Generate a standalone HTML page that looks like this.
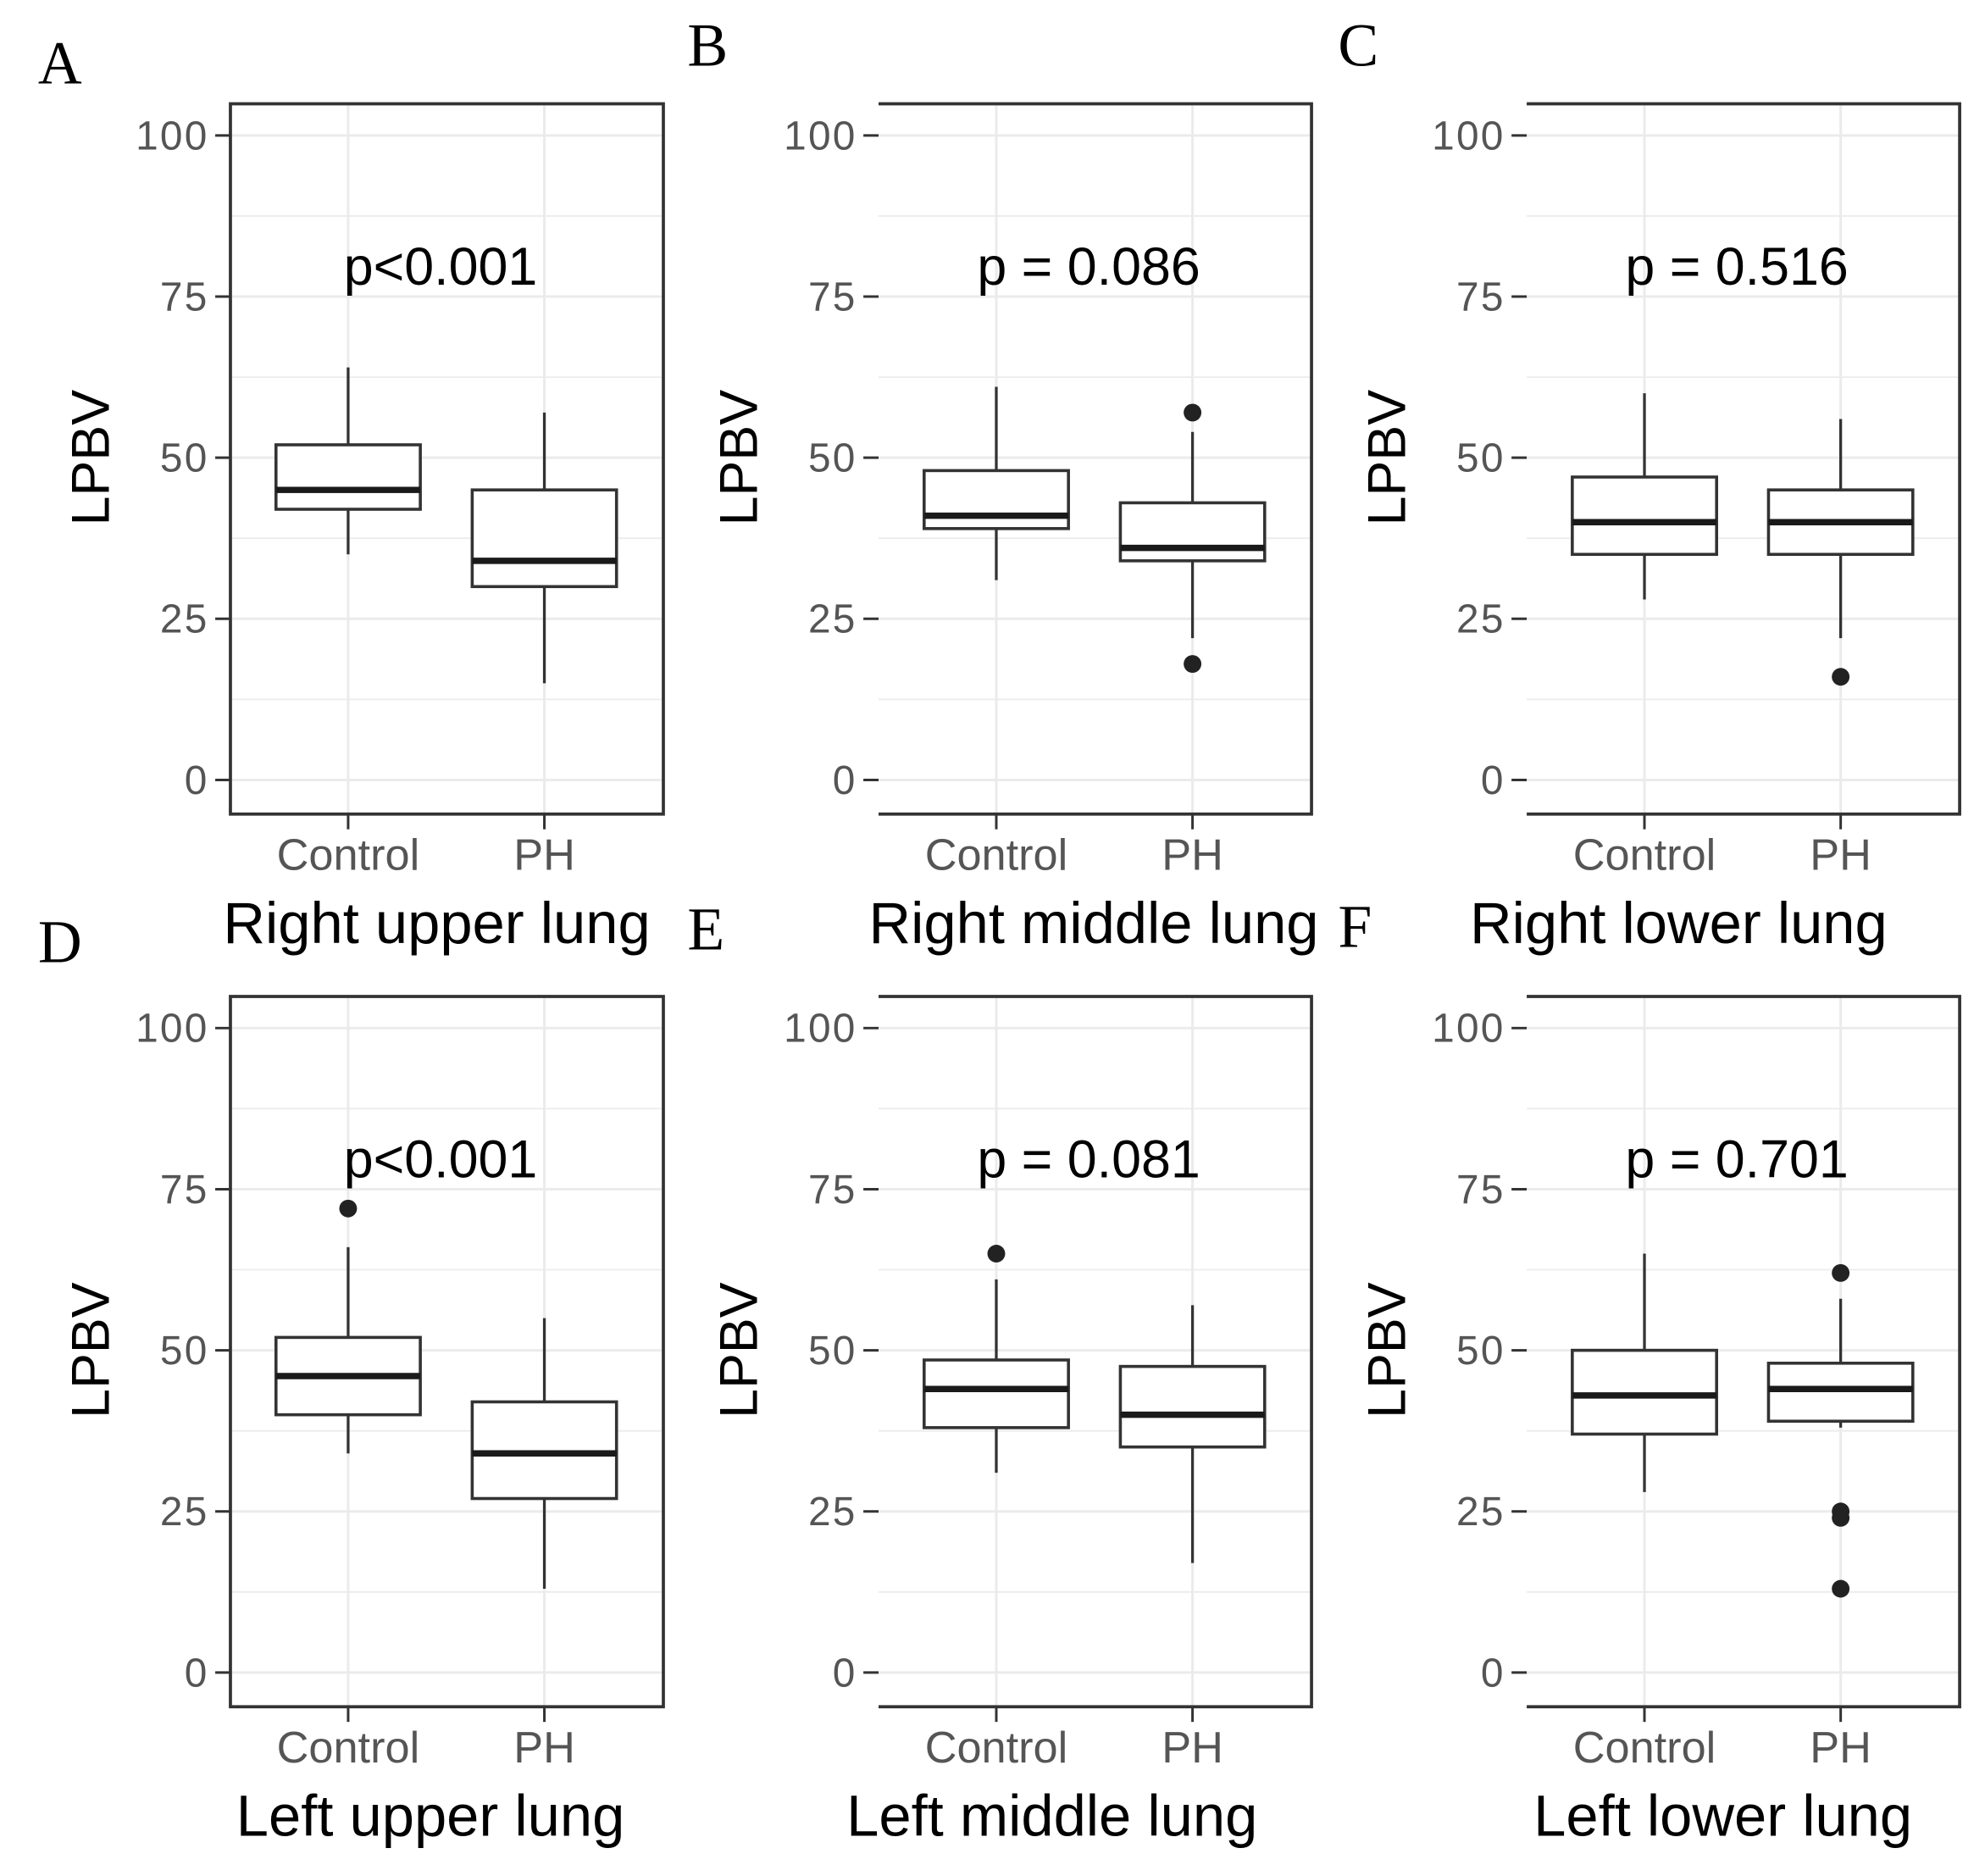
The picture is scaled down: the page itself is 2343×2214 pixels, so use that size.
<!DOCTYPE html>
<html><head><meta charset="utf-8"><style>
html,body{margin:0;padding:0;background:#fff;}
svg{display:block;}
</style></head><body>
<svg id="chart" xmlns="http://www.w3.org/2000/svg" width="2343" height="2214" viewBox="0 0 1568 1481.7" font-family="Liberation Sans, sans-serif">
<rect width="1568" height="1482" fill="#fff"/>
</svg>
<script>
const panelLetters=["A","B","C","D","E","F"];
const panelTitles=["Right upper lung","Right middle lung","Right lower lung","Left upper lung","Left middle lung","Left lower lung"];
const pLabels=["p<0.001","p = 0.086","p = 0.516","p<0.001","p = 0.081","p = 0.701"];
const groups=["Control","PH"];
const yTicks=[0,25,50,75,100];
// [lowWhisker, q1, median, q3, highWhisker] per panel: Control, PH
const controlStats=[[35,42,45,52,64],[31,39,41,48,61],[28,35,40,47,60],[34,40,46,52,66],[31,38,44,48.5,61],[28,37,43,50,65]];
const phStats=[[15,30,34,45,57],[22,34,36,43,54],[22,35,40,45,56],[13,27,34,42,55],[17,35,40,47.5,57],[38,39,44,48,58]];
const controlOutliers=[[],[],[],[72],[65],[]];
const phOutliers=[[],[57,18],[16],[],[],[62,25,24,13]];

const svg=document.getElementById('chart');
const NS='http://www.w3.org/2000/svg';
function mk(tag,attrs,parent){const e=document.createElementNS(NS,tag);for(const k in attrs)e.setAttribute(k,attrs[k]);(parent||svg).appendChild(e);return e;}

const colX=[182,694,1206];
const rowY=[82,787];
const letterPos=[[30,66],[543,52],[1057,52],[30,760],[543,750],[1057,748]];
const titleX=[345,864,1326,340,831,1361];

for(let p=0;p<6;p++){
  const col=p%3,row=Math.floor(p/3);
  const L=colX[col],R=L+342,T=rowY[row],B=T+561;
  const y0=T+534,y100=T+25;
  const yS=v=>y0-(v/100)*(y0-y100);
  const xS=i=>L+93+i*155;
  const g=mk('g',{});
  
  
  const lt=mk('text',{x:letterPos[p][0],y:letterPos[p][1],'font-size':48,'font-family':'Liberation Serif, serif',fill:'#000'},g);
  lt.textContent=panelLetters[p];
  
  
  for(let v=0;v<=100;v+=12.5){
    const gl=mk('line',{x1:L,x2:R,y1:yS(v),y2:yS(v),stroke:'#ebebeb','stroke-width':v%25===0?2:1.2},g);
    
    
  }
  for(let i=0;i<groups.length;i++){
    const vl=mk('line',{x1:xS(i),x2:xS(i),y1:T,y2:B,stroke:'#ebebeb','stroke-width':2},g);
    
    
  }
  const fr=mk('path',{d:col===0?`M${L},${T}H${R}V${B}H${L}Z`:`M${L},${T}H${R}V${B}H${L}`,fill:'none',stroke:'#333','stroke-width':2.5},g);
  
  
  yTicks.forEach(v=>{
    const tm=mk('line',{x1:L-12,x2:L,y1:yS(v),y2:yS(v),stroke:'#333','stroke-width':2},g);
    
    
    const tl=mk('text',{x:L-17,y:yS(v)+11,'text-anchor':'end','font-size':32,'letter-spacing':1.5,fill:'#555'},g);
    tl.textContent=v;
    
    
  });
  const yt=mk('text',{transform:`translate(${L-96},${yS(50)}) rotate(-90)`,'text-anchor':'middle','font-size':42,fill:'#000'},g);
  yt.textContent='LPBV';
  
  
  groups.forEach((gname,i)=>{
    const tm=mk('line',{x1:xS(i),x2:xS(i),y1:B,y2:B+12,stroke:'#333','stroke-width':2},g);
    
    
    const tl=mk('text',{x:xS(i),y:B+44,'text-anchor':'middle','font-size':35,fill:'#555'},g);
    tl.textContent=gname;
    
    
  });
  const xt=mk('text',{x:titleX[p],y:B+102,'text-anchor':'middle','font-size':46,fill:'#000'},g);
  xt.textContent=panelTitles[p];
  
  
  const pt=mk('text',{x:L+166,y:T+143,'text-anchor':'middle','font-size':42,fill:'#000'},g);
  pt.textContent=pLabels[p];
  
  
  [controlStats[p],phStats[p]].forEach((s,i)=>{
    const cx=xS(i),hw=57;
    const w1=mk('line',{x1:cx,x2:cx,y1:yS(s[4]),y2:yS(s[3]),stroke:'#333','stroke-width':2.2},g);
    
    
    const w2=mk('line',{x1:cx,x2:cx,y1:yS(s[1]),y2:yS(s[0]),stroke:'#333','stroke-width':2.2},g);
    
    
    const bx=mk('rect',{x:cx-hw,y:yS(s[3]),width:2*hw,height:yS(s[1])-yS(s[3]),fill:'#fff',stroke:'#333','stroke-width':2.4},g);
    
    
    const md=mk('line',{x1:cx-hw,x2:cx+hw,y1:yS(s[2]),y2:yS(s[2]),stroke:'#1a1a1a','stroke-width':5},g);
    
    
  });
  [controlOutliers[p],phOutliers[p]].forEach((arr,i)=>{
    arr.forEach(v=>{
      const c=mk('circle',{cx:xS(i),cy:yS(v),r:7,fill:'#222'},g);
      
      
    });
  });
}
</script>
</body></html>
